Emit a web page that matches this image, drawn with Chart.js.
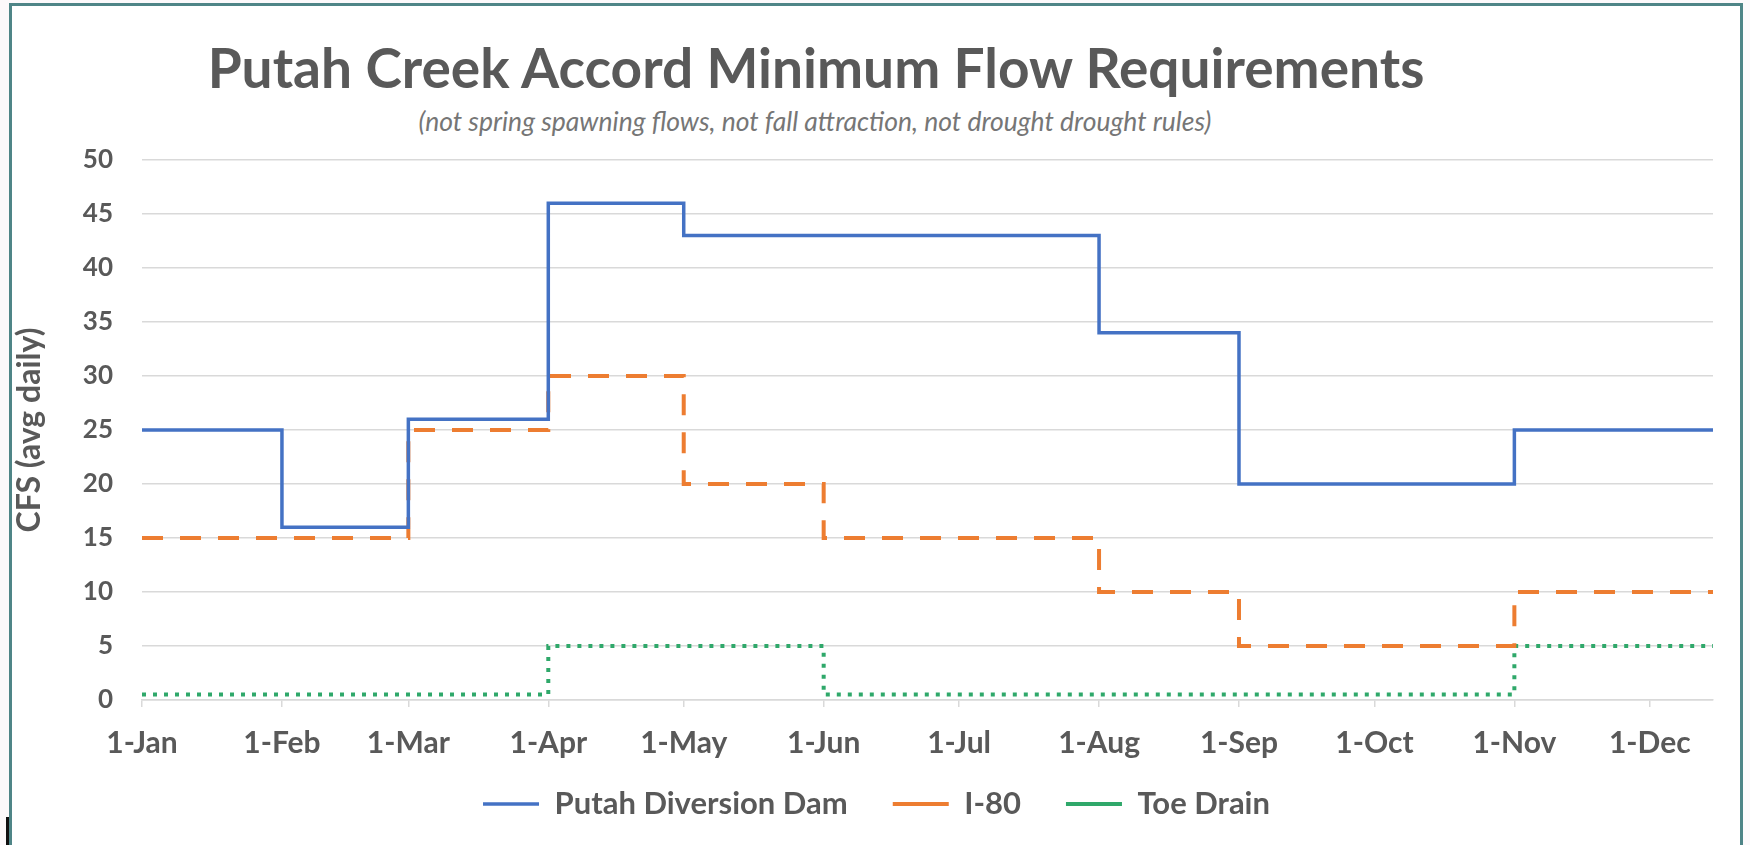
<!DOCTYPE html>
<html>
<head>
<meta charset="utf-8">
<script src="https://cdn.jsdelivr.net/npm/chart.js@4.4.1/dist/chart.umd.min.js"></script>
<style>
  html, body { margin: 0; padding: 0; background: #fcf9fb; }
  #wrap { position: relative; width: 1750px; height: 845px; overflow: hidden; }
  #frame { position: absolute; left: 9px; top: 3px; width: 1734px; height: 860px;
           border: 3px solid #4f8587; background: #ffffff; box-sizing: border-box; }
  #mark { position: absolute; left: 6px; top: 817px; width: 3px; height: 28px; background: #111; }
  #title { position: absolute; left: 0; width: 1632px; top: 34px; text-align: center;
           font: bold 55px Lato, sans-serif; color: #595959; white-space: nowrap; }
  #subtitle { position: absolute; left: 0; width: 1630px; top: 105px; text-align: center;
           font: italic 26.5px Lato, sans-serif; color: #767676; white-space: nowrap; }
  canvas { position: absolute; left: 0; top: 0; }
</style>
</head>
<body>
<div id="wrap">
  <div id="frame"></div>
  <div id="mark"></div>
  <div id="title">Putah Creek Accord Minimum Flow Requirements</div>
  <div id="subtitle">(not spring spawning flows, not fall attraction, not drought drought rules)</div>
  <canvas id="c" width="1750" height="845"></canvas>
</div>
<script>
// ---- data ----
const year = 2021;
const monthLabels = ['1-Jan','1-Feb','1-Mar','1-Apr','1-May','1-Jun','1-Jul','1-Aug','1-Sep','1-Oct','1-Nov','1-Dec'];
const seriesNames = ['Putah Diversion Dam', 'I-80', 'Toe Drain'];
// value in force from the 1st of each month
const putahDam = [25, 16, 26, 46, 43, 43, 43, 34, 20, 20, 25, 25];
const i80      = [15, 15, 25, 30, 20, 15, 15, 10,  5,  5, 10, 10];
const toeDrain = [0.5, 0.5, 0.5, 5, 5, 0.5, 0.5, 0.5, 0.5, 0.5, 5, 5];
const endMonth = 11, endDayOfMonth = 15;   // lines run to 15-Dec
const yMin = 0, yMax = 50, yStep = 5;
const yAxisTitle = 'CFS (avg daily)';

// ---- helpers ----
const dayOfYear = (m, d) => (Date.UTC(year, m, d) - Date.UTC(year, 0, 1)) / 86400000;
const monthStarts = monthLabels.map((_, m) => dayOfYear(m, 1));
const endDay = dayOfYear(endMonth, endDayOfMonth);
const toPoints = vals => vals.map((v, m) => ({ x: monthStarts[m], y: v }))
                            .concat([{ x: endDay, y: vals[vals.length - 1] }]);

const textColor = '#595959';
const gridColor = '#d9d9d9';

// lift the legend row a little closer to the axis labels
const legendLift = {
  id: 'legendLift',
  afterLayout(chart) {
    const lg = chart.legend;
    if (lg) { lg.top -= 18.5; lg.bottom -= 18.5; }
  }
};

function build() {
  Chart.defaults.font.family = 'Lato, sans-serif';
  new Chart(document.getElementById('c'), {
    type: 'line',
    data: {
      datasets: [
        { label: seriesNames[0], data: toPoints(putahDam), borderColor: '#4472c4', backgroundColor: '#4472c4',
          borderWidth: 3.5, stepped: 'before', pointRadius: 0, fill: false },
        { label: seriesNames[1], data: toPoints(i80), borderColor: '#ed7d31', backgroundColor: '#ed7d31',
          borderWidth: 4, borderDash: [21, 17], stepped: 'before', pointRadius: 0, fill: false },
        { label: seriesNames[2], data: toPoints(toeDrain), borderColor: '#2fa86a', backgroundColor: '#2fa86a',
          borderWidth: 4, borderDash: [4, 7], stepped: 'before', pointRadius: 0, fill: false }
      ]
    },
    plugins: [legendLift],
    options: {
      responsive: false,
      animation: false,
      layout: { padding: { left: 40, right: 37, top: 160, bottom: 0 } },
      plugins: {
        tooltip: { enabled: false },
        title: { display: false },
        legend: {
          position: 'bottom',
          maxHeight: 83,
          labels: {
            usePointStyle: true, pointStyle: 'line', pointStyleWidth: 56,
            padding: 45, color: textColor,
            font: { size: 31, weight: 'bold', family: 'Lato, sans-serif' }
          }
        }
      },
      scales: {
        x: {
          type: 'linear', min: 0, max: endDay,
          afterBuildTicks: s => { s.ticks = monthStarts.map(v => ({ value: v })); },
          afterFit: s => { s.height = 62; },
          ticks: {
            autoSkip: false, maxRotation: 0, padding: 18, color: textColor,
            font: { size: 30, weight: 'bold' },
            callback: (v, i) => monthLabels[i]
          },
          grid: { drawOnChartArea: false, drawTicks: true, tickLength: 7, color: gridColor, lineWidth: 1.5 },
          border: { display: true, color: gridColor, width: 1.5 }
        },
        y: {
          min: yMin, max: yMax,
          afterFit: s => { s.width = 102; },
          ticks: { stepSize: yStep, padding: 29, color: textColor, font: { size: 26, weight: 'bold' } },
          grid: { color: gridColor, lineWidth: 1.5, drawTicks: false },
          border: { display: false },
          title: { display: true, text: yAxisTitle, color: textColor,
                   font: { size: 32, weight: 'bold' }, padding: { top: -30, bottom: 0 } }
        }
      }
    }
  });
}
if (document.fonts && document.fonts.load) {
  Promise.all([
    document.fonts.load('bold 30px Lato'),
    document.fonts.load('italic 22px Lato')
  ]).then(build, build);
} else { build(); }
</script>
</body>
</html>
